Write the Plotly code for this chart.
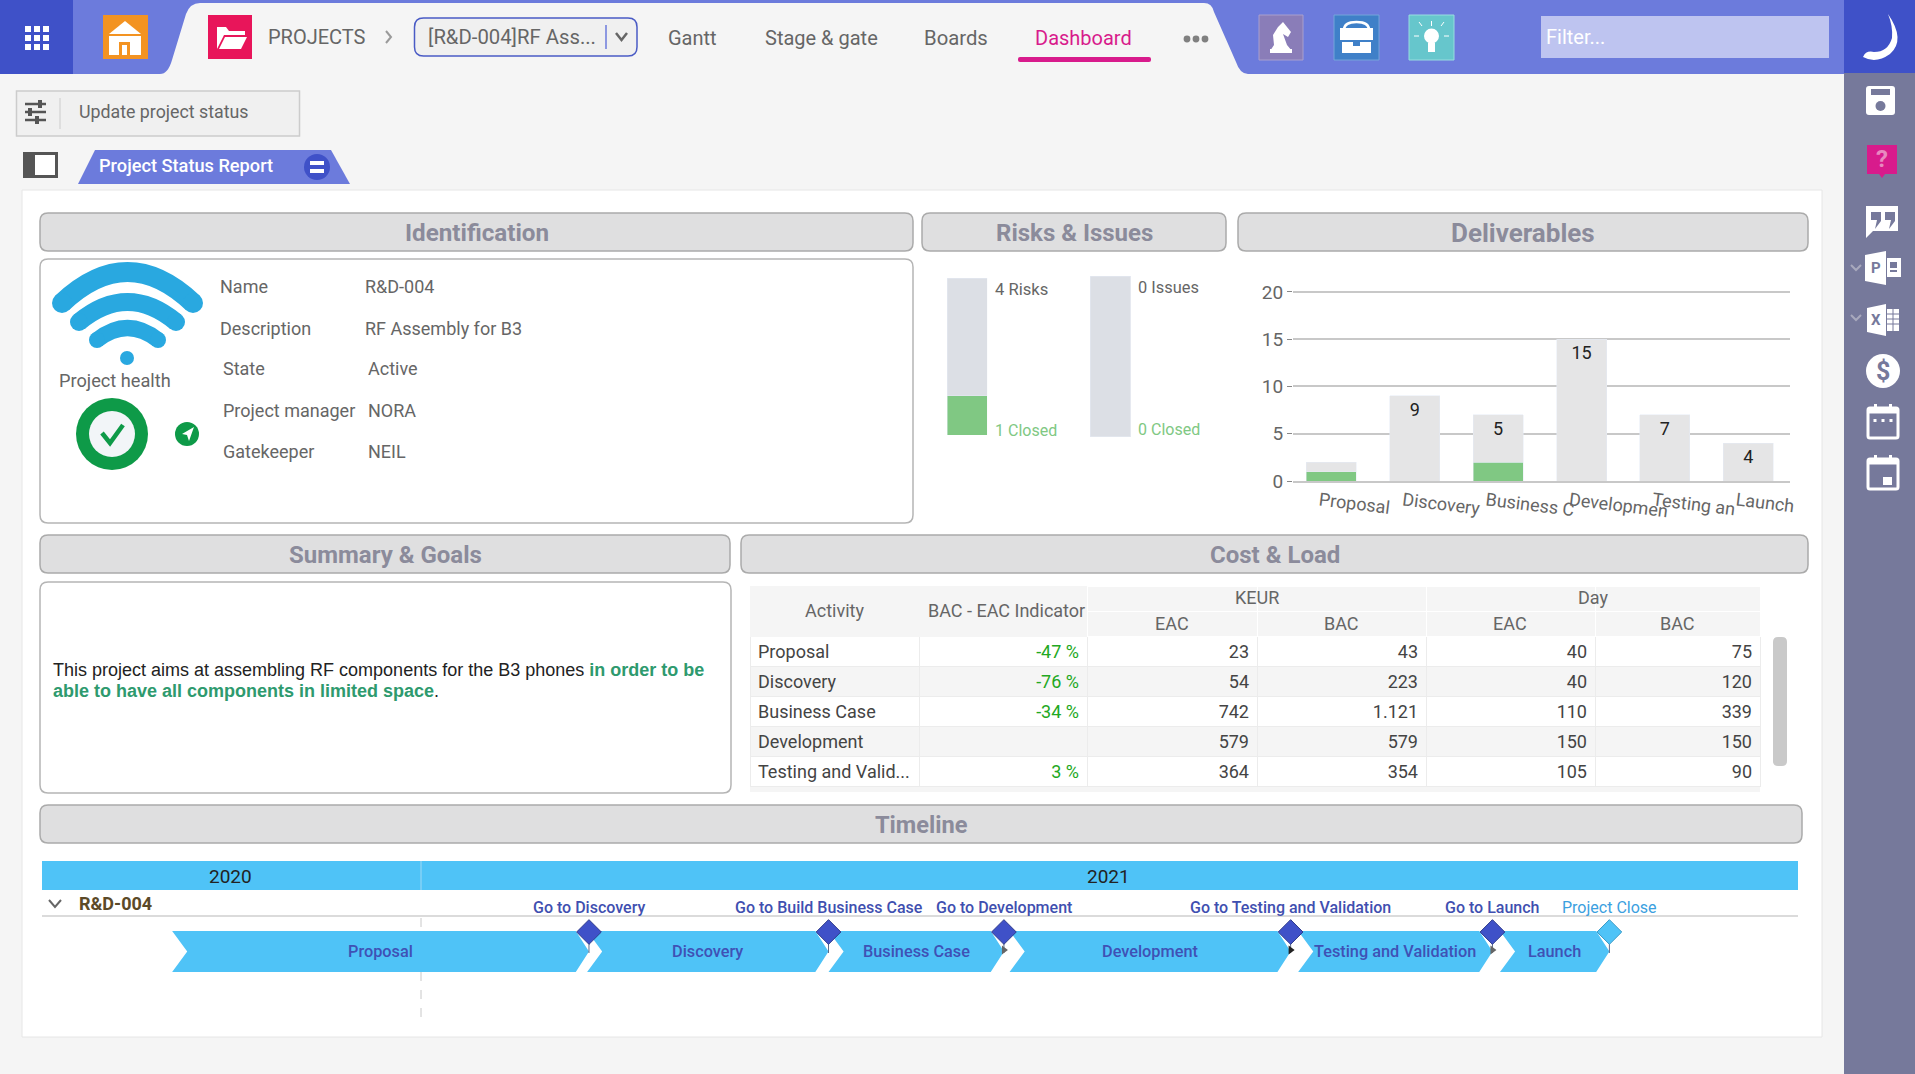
import plotly.graph_objects as go
import pandas as pd

W, H = 1915, 1074

# Deliverables
deliv_cats = ["Proposal", "Discovery", "Business Case", "Development", "Testing and Validation", "Launch"]
deliv_ticks = ["Proposal", "Discovery", "Business C", "Developmen", "Testing an", "Launch"]
deliv_closed = [1, 0, 2, 0, 0, 0]
deliv_open = [1, 9, 5, 15, 7, 4]
deliv_text = ["", "9", "5", "15", "7", "4"]
deliv_yticks = [0, 5, 10, 15, 20]

# Risks & issues (share of the gauge)
risk_closed = [0.25]
risk_open = [0.75]
issue_closed = [0]
issue_open = [1]

# Cost & load table
activities = ["Proposal", "Discovery", "Business Case", "Development", "Testing and Valid..."]
indicator = ["-47 %", "-76 %", "-34 %", "", "3 %"]
keur_eac = ["23", "54", "742", "579", "364"]
keur_bac = ["43", "223", "1.121", "579", "354"]
day_eac = ["40", "40", "110", "150", "105"]
day_bac = ["75", "120", "339", "150", "90"]
sub_heads = ["EAC", "BAC", "EAC", "BAC"]

# Timeline
phases = ["Proposal", "Discovery", "Business Case", "Development", "Testing and Validation", "Launch"]
phase_start = ["2020-10-27", "2021-02-14", "2021-04-19", "2021-06-06", "2021-08-21 12:00", "2021-10-14"]
gates = ["Go to Discovery", "Go to Build Business Case", "Go to Development",
         "Go to Testing and Validation", "Go to Launch", "Project Close"]
gate_dates = ["2021-02-14 12:00", "2021-04-19", "2021-06-04 12:00", "2021-08-19 12:00", "2021-10-12", "2021-11-12"]

# Identification
id_labels = ["Name", "Description", "State", "Project manager", "Gatekeeper"]
id_values = ["R&D-004", "RF Assembly for B3", "Active", "NORA", "NEIL"]

BLUE_BAR = "#6c7bdc"
DARK_BLUE = "#3f51c8"
SKY = "#4fc3f7"
GREEN = "#80c883"
TXT = "#5a5a5a"

shapes = []
notes = []


def rect(x0, y0, x1, y1, fill, line=None, lw=1):
    shapes.append(dict(type="rect", x0=x0, y0=y0, x1=x1, y1=y1, fillcolor=fill,
                       line=dict(color=line or "rgba(0,0,0,0)", width=lw if line else 0),
                       layer="below", xref="x", yref="y"))


def path(d, fill="rgba(0,0,0,0)", line=None, lw=1):
    shapes.append(dict(type="path", path=d, fillcolor=fill,
                       line=dict(color=line or "rgba(0,0,0,0)", width=lw if line else 0),
                       layer="below", xref="x", yref="y"))


def rrect(x0, y0, x1, y1, r, fill, line=None, lw=1):
    d = (f"M{x0+r} {y0} L{x1-r} {y0} Q{x1} {y0} {x1} {y0+r} L{x1} {y1-r} Q{x1} {y1} {x1-r} {y1} "
         f"L{x0+r} {y1} Q{x0} {y1} {x0} {y1-r} L{x0} {y0+r} Q{x0} {y0} {x0+r} {y0} Z")
    path(d, fill, line, lw)


def circle(cx, cy, r, fill, line=None, lw=1):
    shapes.append(dict(type="circle", x0=cx-r, y0=cy-r, x1=cx+r, y1=cy+r, fillcolor=fill,
                       line=dict(color=line or "rgba(0,0,0,0)", width=lw if line else 0),
                       layer="below", xref="x", yref="y"))


def text(x, y, s, size=18, color=TXT, anchor="left", weight=None, family="Roboto"):
    f = dict(family=family, size=size, color=color)
    if weight:
        f["weight"] = weight
    notes.append(dict(x=x, y=y, xref="x", yref="y", text=s, showarrow=False,
                      xanchor=anchor, yanchor="middle", font=f, borderpad=0, borderwidth=0))


def section(x0, y0, x1, y1, title, size=24):
    rrect(x0, y0, x1, y1, 8, "#dfdfe0", "#ababab", 1.5)
    text((x0 + x1) / 2, (y0 + y1) / 2 + 0.5, title, size, "#8b8b9b", "center", 700)


# page
rect(0, 0, W, H, "#f5f5f5")
rect(0, 0, 1844, 74, BLUE_BAR)
rect(0, 0, 73, 74, DARK_BLUE)
path("M160 74 Q168 74 172 60 L186 14 Q190 3 200 3 L1204 3 Q1212 3 1214 12 L1236 62 Q1240 74 1248 74 Z", "#f5f5f5")
rect(1844, 0, W, H, "#76799b")
rect(1844, 0, W, 73, DARK_BLUE)
rect(22, 190, 1822, 1037, "white", "#e6e6e6", 1)

# top bar
for gx in (25, 34, 43):
    for gy in (26, 35, 44):
        rect(gx, gy, gx + 6, gy + 6, "white")
rect(103, 15, 148, 59, "#f39322")
path("M125 21 L141 34 L109 34 Z", "white")
rect(109, 36, 141, 55, "white")
rect(119, 42, 130, 55, "#f39322")
rect(122, 45, 127, 55, "white")
rect(208, 15, 252, 59, "#e8155a")
path("M217 27 L226 27 L229 31 L245 31 L245 35 L224 35 L217 49 Z", "white")
path("M225 37 L247 37 L241 49 L219 49 Z", "white")
text(268, 37, "PROJECTS", 20, "#666666")
path("M386 31 L391 37 L386 43", line="#9a9a9a", lw=2)
rrect(414.5, 18, 637, 56, 9, "#f0f0f0", "#4a5bc5", 1.5)
text(428, 37, "[R&D-004]RF Ass...", 20.3, "#666666")
path("M606 25 L606 49", line="#6c7bdc", lw=1.5)
path("M616 33 L621.5 40 L627 33", line="#666666", lw=2.5)
text(692.5, 38, "Gantt", 20, "#666666", "center")
text(821, 38, "Stage & gate", 20, "#666666", "center")
text(956, 38, "Boards", 20.3, "#666666", "center")
text(1083, 38, "Dashboard", 20, "#d81b8c", "center")
rrect(1018, 57, 1151, 62, 2, "#d81b8c")
for dx in (1187, 1196, 1205):
    circle(dx, 39, 3.4, "#808080")
rect(1259, 15, 1303, 60, "#8a7db8", "#a9a0cd", 1)
path("M1283 22 L1291 32 L1288 37 L1283 34 L1287 45 L1292 51 L1270 51 L1274 45 L1273 35 L1278 27 Z", "white")
rect(1270, 49, 1292, 53, "white")
rect(1334, 15, 1379, 60, "#3f80c8", "#74a5da", 1)
path("M1344 30 Q1344 22 1356.5 22 Q1369 22 1369 30", line="white", lw=2.5)
rect(1340, 28, 1373, 40, "white")
rect(1342, 42, 1371, 53, "white")
rect(1353, 41, 1360, 46, "#3f80c8")
rect(1409, 15, 1454, 60, "#66c6cc", "#98dde0", 1)
circle(1431.5, 36, 7.5, "white")
rect(1428, 43, 1435, 52, "white")
for ray in ("M1431.5 21 L1431.5 26", "M1419 36 L1414 36", "M1444 36 L1449 36", "M1422 26 L1419 22", "M1441 26 L1444 22"):
    path(ray, line="white", lw=1)
rect(1541, 16, 1829, 58, "#bec4f0")
text(1546, 37, "Filter...", 20, "white")

# tool strip
rect(16.5, 91, 299.5, 136, "#f0f0f0", "#cccccc", 1.5)
path("M60 98 L60 129", line="#cccccc", lw=1)
for sy, kx in ((104, 40), (112, 30), (120, 37)):
    path(f"M25 {sy} L46 {sy}", line="#555555", lw=2.5)
    rect(kx - 2, sy - 4, kx + 2, sy + 4, "#555555")
text(79, 111, "Update project status", 17.8, "#666666")
rect(23, 152, 58, 178, "#555555")
rect(35, 155, 55, 175, "white")
path("M78 184 L95 150 L331 150 L350 184 Z", BLUE_BAR)
text(99, 165.5, "Project Status Report", 18.2, "white", weight=500)
circle(317, 167, 13, DARK_BLUE)
rect(310, 161, 324, 165, "white")
rect(310, 169, 324, 173, "white")

# headers and cards
section(40, 213, 913, 251, "Identification", 24.2)
section(922, 213, 1226, 251, "Risks & Issues")
section(1238, 213, 1808, 251, "Deliverables", 26)
section(40, 535, 730, 573, "Summary & Goals")
section(741, 535, 1808, 573, "Cost & Load")
section(40, 805, 1802, 843, "Timeline", 23.6)
rrect(40, 259, 913, 523, 8, "white", "#b5b5b5", 1.5)
rrect(40, 582, 731, 793, 8, "white", "#b5b5b5", 1.5)

# wifi health icon
WIFI = "#29a8e0"
for x0, x1, ye, yc, lw in ((62, 193, 303, 241, 20), (79, 176, 322, 282, 18), (97, 158, 340, 316, 16)):
    path(f"M{x0} {ye} Q127.5 {yc} {x1} {ye}", line=WIFI, lw=lw)
    circle(x0, ye, lw / 2, WIFI)
    circle(x1, ye, lw / 2, WIFI)
circle(127, 358, 7, WIFI)
text(59, 380, "Project health", 18.2, "#666666")
circle(112, 434, 36, "#0e9a48")
circle(112, 434, 23, "#f2f5f8")
path("M102 433 L110 443 L123 425", line="#0e9a48", lw=4.5)
circle(187, 434, 12, "#0e9a48")
path("M194 427 L182 434 L187 435 L189 441 Z", "white")

id_x = [220, 220, 222.6, 222.6, 222.6]
id_vx = [364.6, 364.6, 367.5, 367.5, 367.5]
id_y = [286, 328, 368, 410, 451]
for lab, val, lx, vx, ly in zip(id_labels, id_values, id_x, id_vx, id_y):
    text(lx, ly, lab, 18, "#666666")
    text(vx, ly, val, 18, "#666666")

# risks labels
text(995, 289, "4 Risks", 16.6, "#666666")
text(995, 430, "1 Closed", 16, GREEN)
text(1138, 287, "0 Issues", 16.4, "#666666")
text(1138, 429, "0 Closed", 16, GREEN)

# summary
text(53, 670, 'This project aims at assembling RF components for the B3 phones '
     '<b><span style="color:#2e9a6e">in order to be</span></b>', 18, "#222222", family="Liberation Sans")
text(53, 691, '<b><span style="color:#2e9a6e">able to have all components in limited space</span></b>.', 18, "#222222",
     family="Liberation Sans")

# table header overlay
text(834, 610, "Activity", 18, "#666666", "center")
text(1006, 610, "BAC - EAC Indicator", 18, "#666666", "center")
text(1257, 597, "KEUR", 18, "#666666", "center")
text(1593, 597, "Day", 18, "#666666", "center")
for label, hx in zip(sub_heads, (1171.5, 1341, 1510, 1677)):
    text(hx, 623, label, 18, "#666666", "center")
rect(750, 787, 1760, 792, "#f5f5f5")
rrect(1773, 637, 1787, 766, 5, "#c9c9c9")

# timeline furniture
rect(42, 861, 1798, 890, SKY)
path("M421 861 L421 890", line="#9fd9f5", lw=1)
text(230, 876, "2020", 19, "#222222", "center")
text(1108, 876, "2021", 19, "#222222", "center")
path("M49 900 L55 907 L61 900", line="#666666", lw=2)
text(79, 903, "R&D-004", 18, "#5c4a28", weight=700)
path("M42 916 L1798 916", line="#cfcfcf", lw=1.5)
shapes.append(dict(type="line", x0=421, x1=421, y0=918, y1=1022, xref="x", yref="y", layer="below",
                   line=dict(color="#c8c8c8", width=1, dash="dash")))

# side bar icons
path("M1888 14 Q1906 40 1890 54 Q1876 64 1863 57 Q1866 50 1874 52 Q1888 52 1892 38 Q1893 26 1888 14 Z", "white")
rrect(1866, 86, 1895, 115, 3, "white")
rect(1871, 89, 1890, 95, "#76799b")
circle(1880.5, 106, 5, "#76799b")
path("M1867 145 L1897 145 L1897 174 L1885 174 L1882 178 L1879 174 L1867 174 Z", "#d81b8c")
text(1882, 159, "?", 24, "#e889c0", "center", 700)
path("M1866 206 L1898 206 L1898 231 L1873 231 L1866 238 Z", "white")
path("M1871 212 L1881 212 L1881 221 L1875 229 L1877 220 L1871 220 Z", "#76799b")
path("M1885 212 L1895 212 L1895 221 L1889 229 L1891 220 L1885 220 Z", "#76799b")
path("M1865 255 L1886 251 L1886 285 L1865 281 Z", "white")
rect(1887, 258, 1901, 277, "white")
rect(1890, 262, 1897, 268, "#76799b")
rect(1890, 270, 1897, 272, "#76799b")
text(1875.5, 268, "P", 15, "#76799b", "center", 700)
path("M1867 308 L1886 304 L1886 336 L1867 332 Z", "white")
rect(1887, 309, 1899, 331, "white")
for gy in (314, 319, 324):
    path(f"M1887 {gy} L1899 {gy}", line="#76799b", lw=1)
path("M1893 309 L1893 331", line="#76799b", lw=1)
text(1876, 320, "X", 15, "#76799b", "center", 700)
circle(1883, 371, 17, "white")
text(1883, 371, "$", 25, "#76799b", "center", 700)
for cy0 in (408, 459):
    rrect(1868, cy0, 1898, cy0 + 30, 2, "rgba(0,0,0,0)", "white", 3)
    path(f"M1868 {cy0+3} L1898 {cy0+3}", line="white", lw=5)
    rect(1874, cy0 - 4, 1877, cy0 + 2, "white")
    rect(1889, cy0 - 4, 1892, cy0 + 2, "white")
for dx in (1875, 1883, 1891):
    rect(dx - 1.5, 419, dx + 1.5, 422, "white")
rect(1883, 477, 1892, 485, "white")
for cy in (267, 317):
    path(f"M1851 {cy-2} L1856 {cy+3} L1861 {cy-2}", line="#a8a9bd", lw=2)

fig = go.Figure()

# full page layer that carries shapes and texts
fig.add_trace(go.Scatter(x=[0, W], y=[0, H], mode="markers", marker=dict(opacity=0),
                         hoverinfo="skip", showlegend=False, xaxis="x", yaxis="y"))

# deliverables bars
fig.add_trace(go.Bar(x=deliv_cats, y=deliv_closed, marker=dict(color=GREEN), width=0.6,
                     xaxis="x2", yaxis="y2", showlegend=False))
fig.add_trace(go.Bar(x=deliv_cats, y=deliv_open, marker=dict(color="#e5e5e6"), width=0.6,
                     text=deliv_text, textposition="inside", insidetextanchor="end", textangle=0,
                     textfont=dict(family="Roboto", size=18, color="#222222"),
                     xaxis="x2", yaxis="y2", showlegend=False))

# risk and issue gauges
for vals, col, xa, ya in ((risk_closed, GREEN, "x3", "y3"), (risk_open, "#dcdfe5", "x3", "y3"),
                          (issue_closed, GREEN, "x4", "y4"), (issue_open, "#dcdfe5", "x4", "y4")):
    fig.add_trace(go.Bar(x=["g"], y=vals, marker=dict(color=col), width=1, xaxis=xa, yaxis=ya, showlegend=False))

# cost table
fig.add_trace(go.Table(
    domain=dict(x=[750 / W, 1760 / W], y=[(H - 792) / H, (H - 586) / H]),
    columnwidth=[169, 168, 170, 169, 169, 165],
    header=dict(values=[["", ""]] * 6, height=25, fill_color="#f5f5f5",
                line=dict(color=["#f5f5f5", "#f5f5f5", "white", "white", "white", "white"], width=1),
                font=dict(family="Roboto", size=18, color="#666666"), align="center"),
    cells=dict(values=[[a.replace(" ", "\u00a0") for a in activities], indicator, keur_eac, keur_bac, day_eac, day_bac],
               height=30, fill_color=[["white", "#f5f5f5", "white", "#f5f5f5", "white"]] * 6,
               line=dict(color="#ececec", width=1),
               font=dict(family="Roboto", size=18, color=["#444444", "#22a822", "#444444", "#444444", "#444444", "#444444"]),
               align=["left", "right", "right", "right", "right", "right"])))

# timeline chevrons on a date axis
t_start = pd.to_datetime(phase_start, format="ISO8601")
t_end = pd.to_datetime(gate_dates, format="ISO8601")
NOTCH = pd.Timedelta(days=4)
TIP = pd.Timedelta(days=3.5)
BAND_TOP, BAND_MID, BAND_BOT = 931, 951.5, 972
for name, s, e in zip(phases, t_start, t_end):
    fig.add_trace(go.Scatter(
        x=[s, e - TIP, e, e - TIP, s, s + NOTCH, s],
        y=[BAND_TOP, BAND_TOP, BAND_MID, BAND_BOT, BAND_BOT, BAND_MID, BAND_TOP],
        mode="lines", fill="toself", fillcolor=SKY, line=dict(width=0), hoverinfo="skip",
        xaxis="x5", yaxis="y5", showlegend=False))
stems_x, stems_y = [], []
for d in t_end:
    stems_x += [d, d, None]
    stems_y += [932, 953, None]
fig.add_trace(go.Scatter(x=stems_x, y=stems_y, mode="lines", line=dict(color="#5a6a8a", width=1),
                         hoverinfo="skip", xaxis="x5", yaxis="y5", showlegend=False))
fig.add_trace(go.Scatter(x=list(t_end[2:5]), y=[950] * 3, mode="markers",
                         marker=dict(symbol="triangle-right", size=8, color=["#666666", "#222222", "#666666"]),
                         hoverinfo="skip", xaxis="x5", yaxis="y5", showlegend=False))
fig.add_trace(go.Scatter(x=list(t_end), y=[932] * len(t_end), mode="markers",
                         marker=dict(symbol="diamond", size=19,
                                     color=[DARK_BLUE] * 5 + [SKY],
                                     line=dict(color=["#2d3a8c"] * 5 + ["#3a9bc8"], width=1)),
                         hoverinfo="skip", xaxis="x5", yaxis="y5", showlegend=False))

# names on the timeline
for name, s, e in zip(phases, t_start, t_end):
    notes.append(dict(x=s + (e - s) / 2, y=BAND_MID, xref="x5", yref="y5", text=name, showarrow=False,
                      font=dict(family="Roboto", size=16.3, color="#3f51b5", weight=500)))
for i, (name, d) in enumerate(zip(gates, t_end)):
    is_close = i == len(gates) - 1
    notes.append(dict(x=d, y=907, xref="x5", yref="y", text=name, showarrow=False,
                      font=dict(family="Roboto", size=16, color="#3ba0e0" if is_close else "#3f4fb0",
                                weight=400 if is_close else 500)))

# automargin stays off: the slanted tick labels would otherwise shrink the whole page
hidden = dict(visible=False, fixedrange=True, automargin=False)
fig.update_layout(
    width=W, height=H, margin=dict(l=0, r=0, t=0, b=0),
    paper_bgcolor="#f5f5f5", plot_bgcolor="rgba(0,0,0,0)",
    font=dict(family="Roboto"), barmode="stack", showlegend=False,
    shapes=shapes, annotations=notes,
    xaxis=dict(hidden, range=[0, W], domain=[0, 1]),
    yaxis=dict(hidden, range=[H, 0], domain=[0, 1]),
    xaxis2=dict(domain=[1293 / W, 1790 / W], anchor="y2", type="category", categoryorder="array",
                categoryarray=deliv_cats, range=[-0.46, 5.5], tickvals=deliv_cats, ticktext=deliv_ticks, tickangle=7,
                ticks="", showgrid=False, showline=True, linecolor="#c8c8c8", linewidth=1.5, automargin=False,
                tickfont=dict(family="Roboto", size=18, color="#666666"), ticklabelstandoff=1, ticklabelshift=-12),
    yaxis2=dict(domain=[(H - 481) / H, (H - 290) / H], anchor="x2", range=[0, 20.2], tickvals=deliv_yticks,
                ticks="outside", ticklen=5, tickcolor="#888888", showgrid=True, gridcolor="#c8c8c8",
                gridwidth=1.5, zeroline=False, showline=False, automargin=False,
                tickfont=dict(family="Roboto", size=19, color="#666666")),
    xaxis3=dict(hidden, domain=[947 / W, 987.3 / W], anchor="y3", type="category"),
    yaxis3=dict(hidden, domain=[(H - 435) / H, (H - 278) / H], anchor="x3", range=[0, 1]),
    xaxis4=dict(hidden, domain=[1090 / W, 1130.7 / W], anchor="y4", type="category"),
    yaxis4=dict(hidden, domain=[(H - 436.7) / H, (H - 276) / H], anchor="x4", range=[0, 1]),
    xaxis5=dict(hidden, domain=[42 / W, 1798 / W], anchor="y5", type="date", range=["2020-09-22 12:00", "2022-01-01"]),
    yaxis5=dict(hidden, domain=[(H - 1022) / H, (H - 918) / H], anchor="x5", range=[1022, 918]),
)

fig.write_html("out.html", config=dict(displayModeBar=False),
               post_script="document.body.style.margin='0';document.body.style.overflow='hidden';")
